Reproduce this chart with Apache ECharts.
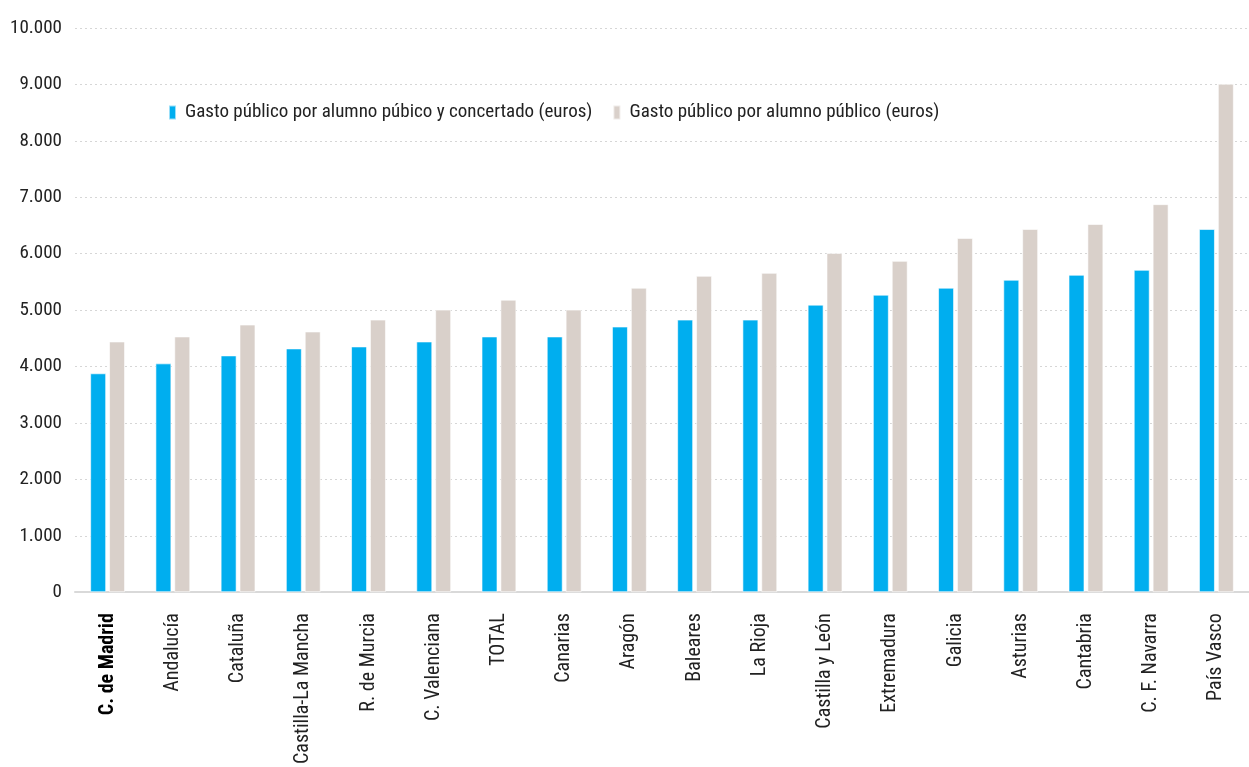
<!DOCTYPE html>
<html><head><meta charset="utf-8">
<script src="https://cdn.jsdelivr.net/npm/echarts@6/dist/echarts.min.js"></script>
<style>html,body{margin:0;padding:0;background:#fff}#c{width:1249px;height:767px}</style>
</head><body><div id="c"></div>
<script>
const categories = ["C. de Madrid","Andalucía","Cataluña","Castilla-La Mancha","R. de Murcia","C. Valenciana","TOTAL","Canarias","Aragón","Baleares","La Rioja","Castilla y León","Extremadura","Galicia","Asturias","Cantabria","C. F. Navarra","País Vasco"];
const publicoConcertado = [3880,4056,4197,4321,4356,4444,4533,4533,4709,4832,4832,5097,5273,5397,5538,5626,5714,6437];
const publico = [4444,4533,4744,4621,4832,5009,5185,5009,5397,5608,5661,6014,5873,6279,6437,6526,6878,9012];
const seriesNames = ["Gasto público por alumno púbico y concertado (euros)","Gasto público por alumno público (euros)"];
const FONT = "'Roboto Condensed','Liberation Sans Narrow','DejaVu Sans Condensed',sans-serif";
const chart = echarts.init(document.getElementById('c'));
chart.setOption({
  animation:false,
  textStyle:{fontFamily:FONT},
  grid:{left:75,top:28,width:1184,bottom:172,containLabel:false},
  legend:{left:163,top:98,itemWidth:7,itemHeight:14,itemGap:20,icon:'rect',
    textStyle:{fontFamily:FONT,fontSize:19,color:'#222',padding:[0,0,0,4]}},
  xAxis:{type:'category',
    data:categories.map((c,i)=>i===0?{value:c,textStyle:{fontWeight:'bold',color:'#000'}}:c),
    axisLine:{lineStyle:{color:'#d9d9d9',width:2}},axisTick:{show:false},
    axisLabel:{rotate:90,interval:0,fontFamily:FONT,fontSize:20,color:'#222',margin:21,verticalAlign:'middle'}},
  yAxis:{type:'value',min:0,max:10000,interval:1000,
    axisLine:{show:false},axisTick:{show:false},
    axisLabel:{fontFamily:FONT,fontSize:19,color:'#222',margin:13,
      formatter:v=>v===0?'0':(v/1000).toFixed(3)},
    splitLine:{lineStyle:{color:'#d6d6d6',type:[2,3],width:1}}},
  series:[
    {name:seriesNames[0],type:'bar',data:publicoConcertado,barWidth:16,barGap:'18%',
      itemStyle:{color:'#00AEEF',borderColor:'rgba(255,255,255,0.6)',borderWidth:1}},
    {name:seriesNames[1],type:'bar',data:publico,barWidth:16,
      itemStyle:{color:'#D9D0CA',borderColor:'rgba(255,255,255,0.6)',borderWidth:1}}
  ]
});
</script></body></html>
